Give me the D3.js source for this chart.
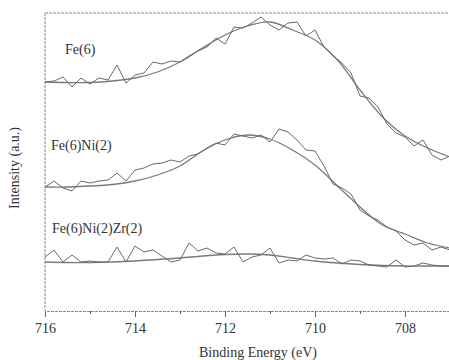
<!DOCTYPE html>
<html lang="en">
<head>
  <meta charset="UTF-8">
  <title>Fe 2p XPS spectra</title>
  <script src="https://d3js.org/d3.v7.min.js"></script>
  <style>
    body { margin: 0; background: #fff; }
    svg text { font-family: "Liberation Serif", "DejaVu Serif", "Times New Roman", serif !important; }
  </style>
</head>
<body>
  <svg width="449" height="360"></svg>
  <script>
    // measured spectra, 0.2 eV steps
    const energies = [716.0, 715.8, 715.6, 715.4, 715.2, 715.0, 714.8, 714.6, 714.4, 714.2,
                      714.0, 713.8, 713.6, 713.4, 713.2, 713.0, 712.8, 712.6, 712.4, 712.2,
                      712.0, 711.8, 711.6, 711.4, 711.2, 711.0, 710.8, 710.6, 710.4, 710.2,
                      710.0, 709.8, 709.6, 709.4, 709.2, 709.0, 708.8, 708.6, 708.4, 708.2,
                      708.0, 707.8, 707.6, 707.4, 707.2, 707.0];
    const fe6 = [229, 230, 234, 224, 233, 227, 233, 231, 246, 228,
                 236, 238, 249, 247, 250, 249, 255, 260, 264, 273,
                 267, 284, 283, 288, 294, 286, 281, 288, 289, 275,
                 281, 264, 255, 248, 238, 215, 213, 204, 187, 178,
                 174, 165, 171, 156, 151, 155];
    const fe6ni2 = [124, 130, 123, 120, 130, 128, 130, 131, 138, 130,
                    141, 143, 147, 148, 151, 149, 155, 157, 163, 168,
                    166, 177, 175, 173, 176, 169, 182, 179, 171, 161,
                    160, 145, 127, 123, 117, 101, 95, 91, 84, 80,
                    71, 66, 68, 61, 64, 61];
    const fe6ni2zr2 = [54, 61, 49, 56, 49, 50, 49, 49, 64, 49,
                       65, 59, 61, 55, 49, 51, 68, 60, 63, 58,
                       57, 64, 49, 54, 56, 63, 48, 51, 50, 56,
                       53, 52, 53, 47, 51, 50, 46, 45, 44, 51,
                       44, 45, 48, 46, 45, 45];

    // fitted envelopes, 0.5 eV steps
    const fitEnergies = [716, 715.5, 715, 714.5, 714, 713.5, 713, 712.5, 712, 711.5,
                         711, 710.5, 710, 709.5, 709, 708.5, 708, 707.5, 707];
    const fe6Fit = [229, 228.5, 228.5, 230, 233, 239, 249, 263, 276, 285,
                    289, 281, 271, 251, 221, 194, 175, 163, 154];
    const fe6ni2Fit = [124, 124, 125, 126.5, 130, 136, 145, 160, 171, 176,
                       172, 161, 146, 125, 104, 86, 77, 68, 63];
    const fe6ni2zr2Fit = [49, 48.5, 48.5, 49, 50, 51.5, 53, 55, 56.5, 57,
                          56, 53, 50, 48, 46.5, 45.5, 45, 45, 45];

    const seriesNames = ["Fe(6)", "Fe(6)Ni(2)", "Fe(6)Ni(2)Zr(2)"];
    const tickValues = [716, 714, 712, 710, 708];

    const margin = { top: 13, right: 0, bottom: 49, left: 45 };
    const width = 449, height = 360;

    const svg = d3.select("svg");

    const x = d3.scaleLinear()
                .domain([716, 707])
                .range([margin.left, 450]);
    const y = d3.scaleLinear()
                .domain([0, 298])
                .range([height - margin.bottom, margin.top]);

    const frameColor = "#8a8a8a";

    // frame (top and left edges)
    svg.append("line")
       .attr("x1", x(716)).attr("x2", width)
       .attr("y1", y(298)).attr("y2", y(298))
       .attr("stroke", frameColor).attr("stroke-dasharray", "3,1");
    svg.append("line")
       .attr("x1", x(716)).attr("x2", x(716))
       .attr("y1", y(298)).attr("y2", y(0))
       .attr("stroke", frameColor).attr("stroke-dasharray", "3,1");

    // x axis with minor ticks
    const axisG = svg.append("g")
                     .attr("transform", "translate(0," + y(0) + ")");
    axisG.call(d3.axisBottom(x)
                 .tickValues(d3.range(707, 716.5, 1))
                 .tickSize(3)
                 .tickFormat(""));
    axisG.attr("font-family", null);
    axisG.call(g => g.selectAll(".tick").filter(d => tickValues.includes(d))
                     .select("line").attr("y2", 6));
    axisG.select(".domain").attr("stroke", frameColor).attr("stroke-dasharray", "3,1");
    axisG.selectAll(".tick line").attr("stroke", "#666");
    axisG.selectAll(".tick")
         .filter(d => tickValues.includes(d))
         .append("text")
         .attr("y", 22)
         .attr("fill", "#333")
         .attr("text-anchor", "middle")
         .style("font-size", "14px")
         .text(d => d);

    // lines
    svg.append("clipPath").attr("id", "plot-clip")
       .append("rect")
       .attr("x", margin.left).attr("y", margin.top)
       .attr("width", width - margin.left)
       .attr("height", y(0) - margin.top);

    const raw = d3.line()
                  .x((d, i) => x(energies[i]))
                  .y(d => y(d));
    const smooth = d3.line()
                     .x((d, i) => x(fitEnergies[i]))
                     .y(d => y(d))
                     .curve(d3.curveCatmullRom);

    const plot = svg.append("g").attr("clip-path", "url(#plot-clip)");

    [fe6Fit, fe6ni2Fit, fe6ni2zr2Fit].forEach(s => {
      plot.append("path")
          .attr("d", smooth(s))
          .attr("fill", "none")
          .attr("stroke", "#7a7a7a")
          .attr("stroke-width", 1.3);
    });
    [fe6, fe6ni2, fe6ni2zr2].forEach(s => {
      plot.append("path")
          .attr("d", raw(s))
          .attr("fill", "none")
          .attr("stroke", "#6a6a6a")
          .attr("stroke-width", 1);
    });

    // series labels
    const labelPos = [[65, 54], [51, 150], [52, 233]];
    seriesNames.forEach((name, i) => {
      svg.append("text")
         .attr("x", labelPos[i][0])
         .attr("y", labelPos[i][1])
         .attr("fill", "#333")
         .style("font-size", "14px")
         .text(name);
    });

    // axis titles
    svg.append("text")
       .attr("x", 258)
       .attr("y", 357)
       .attr("text-anchor", "middle")
       .attr("fill", "#333")
       .style("font-size", "14px")
       .text("Binding Energy (eV)");

    svg.append("text")
       .attr("transform", "rotate(-90)")
       .attr("x", -168)
       .attr("y", 19)
       .attr("text-anchor", "middle")
       .attr("fill", "#333")
       .style("font-size", "14px")
       .text("Intensity (a.u.)");
  </script>
</body>
</html>
